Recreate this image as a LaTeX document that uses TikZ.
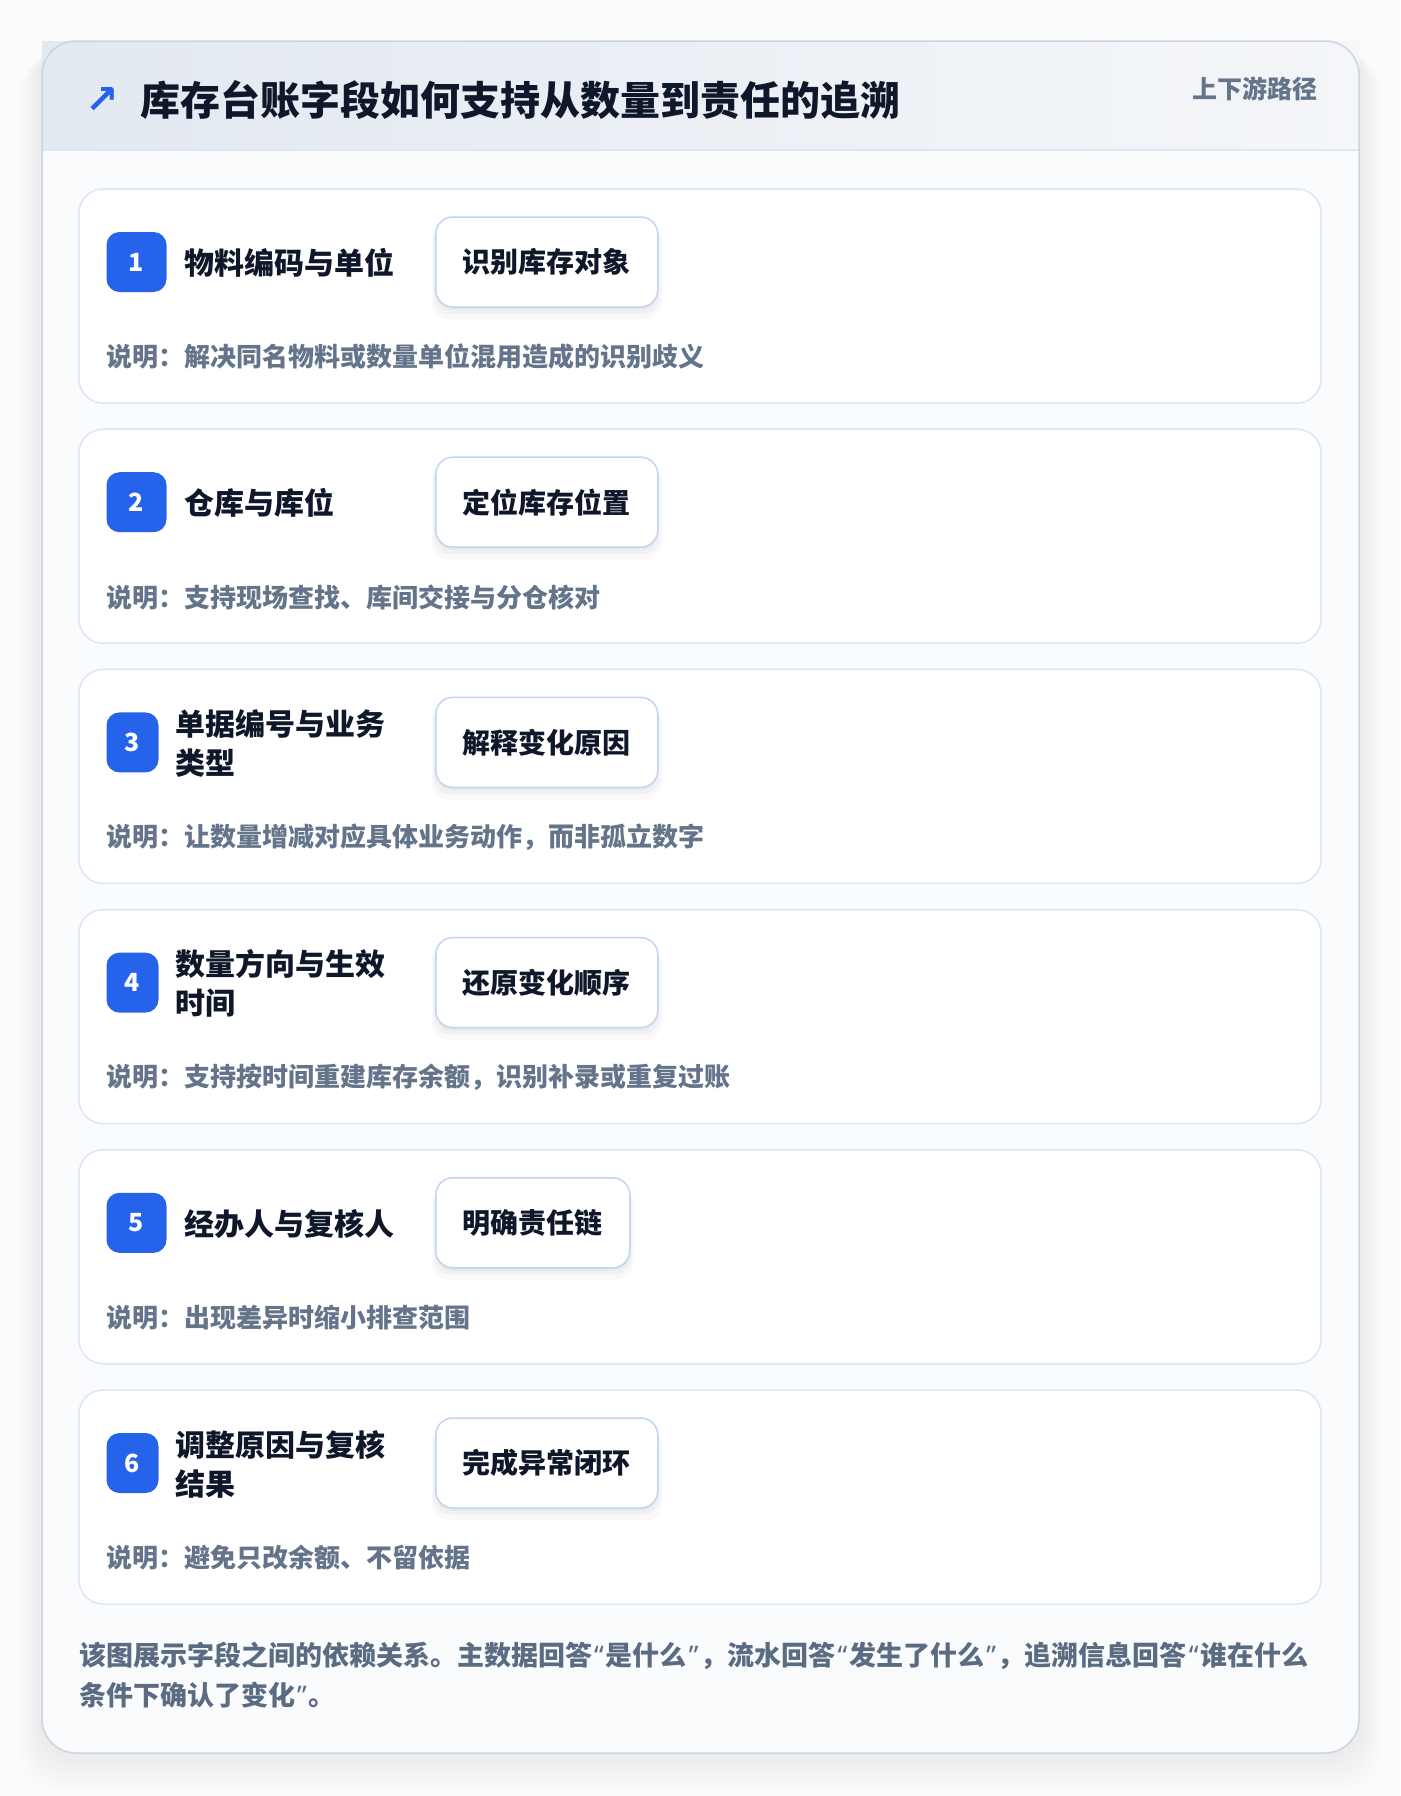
\documentclass[tikz,border=0pt]{standalone}
\usepackage{fontspec}
\setmainfont{Noto Sans CJK SC}
\newfontfamily\symfont{DejaVu Sans}
\newfontfamily\quotefont{Noto Sans}
\usetikzlibrary{shadows}
\definecolor{pagebg}{HTML}{FBFBFC}
\definecolor{cardbg}{HTML}{F9FBFD}
\definecolor{cardborder}{HTML}{CBD5E1}
\definecolor{headl}{HTML}{E3E9F1}
\definecolor{headr}{HTML}{F4F6F9}
\definecolor{headline}{HTML}{DCE8F7}
\definecolor{rowborder}{HTML}{DCE7F6}
\definecolor{tagborder}{HTML}{BFD5F3}
\definecolor{badgeblue}{HTML}{2563EB}
\definecolor{ink}{HTML}{0F172A}
\definecolor{muted}{HTML}{64748B}
\definecolor{footc}{HTML}{5B6B82}
\newcommand\myopenq{{\kern2pt\quotefont “\kern2pt}}
\newcommand\mycloseq{{\kern2pt\quotefont ”\kern2pt}}
\tikzset{
  rowbox/.style={draw=rowborder, line width=1.5pt, fill=white, rounded corners=24pt},
  badge/.style={fill=badgeblue, rounded corners=13pt, minimum height=60pt, inner sep=0pt,
    text=white, font=\fontsize{25}{25}\selectfont\bfseries},
  fieldlabel/.style={anchor=west, text=ink, font=\fontsize{30}{39}\selectfont\bfseries,
    align=left, inner sep=0pt},
  tagbox/.style={draw=tagborder, line width=1.5pt, fill=white, rounded corners=17pt,
    minimum height=90pt, inner xsep=27pt, inner ysep=0pt, text=ink,
    font=\fontsize{28}{28}\selectfont\bfseries, anchor=west,
    drop shadow={shadow xshift=0pt, shadow yshift=-10pt, shadow scale=1.04, opacity=0.025, fill=black},
    drop shadow={shadow xshift=0pt, shadow yshift=-6pt, shadow scale=1.02, opacity=0.03, fill=black},
    drop shadow={shadow xshift=0pt, shadow yshift=-3pt, opacity=0.03, fill=black}},
  desctext/.style={anchor=west, inner sep=0pt, text=muted, font=\fontsize{26}{26}\selectfont\bfseries},
  titletext/.style={anchor=west, inner sep=0pt, text=ink, font=\fontsize{40}{40}\selectfont\bfseries},
  sidetext/.style={anchor=east, inner sep=0pt, text=muted, font=\fontsize{25}{25}\selectfont\bfseries},
  foottext/.style={anchor=north west, inner sep=0pt, text=footc, align=left,
    font=\fontsize{27}{40}\selectfont\bfseries},
}
% #1 idx, #2 top, #3 num, #4 label, #5 tag, #6 desc, #7 badge width, #8 label x
\newcommand\fielditem[8]{%
  \draw[rowbox] (79,#2) rectangle (1321,#2+214);
  \node[badge, minimum width=#7pt] (badge#1) at ({106.5+#7/2}, {#2+73}) {#3};
  \node[fieldlabel] (label#1) at (#8, {#2+74}) {#4};
  \node[tagbox] (tag#1) at (435, {#2+73}) {#5};
  \node[desctext] (desc#1) at (106.5, {#2+168}) {#6};
}
\begin{document}
\begin{tikzpicture}[x=1pt,y=-1pt]
\useasboundingbox (0,0) rectangle (1400,1796);
\fill[pagebg] (0,0) rectangle (1400,1796);
% card shadow
\foreach \k in {1,...,16}{
  \fill[black, opacity=0.0045, rounded corners={34+\k}] ({42-1.5*\k}, {41+0.5*\k}) rectangle ({1359+1.5*\k}, {1753+2.5*\k});
}
% card
\fill[cardbg, rounded corners=34pt] (42,41) rectangle (1359,1753);
\shade[left color=headl, right color=headr] (42,41) rectangle (1359,150);
\draw[headline, line width=2pt] (42,150) -- (1359,150);
\draw[cardborder, line width=1.5pt, rounded corners=34pt] (42,41) rectangle (1359,1753);
% header
\node[text=badgeblue, inner sep=0pt, font=\symfont\bfseries\fontsize{40}{40}\selectfont] (icon) at (102,101) {↗};
\node[titletext] (title) at (140,99.7) {库存台账字段如何支持从数量到责任的追溯};
\node[sidetext] (side) at (1318,89) {上下游路径};
% rows
\fielditem{1}{189}{1}{物料编码与单位}{识别库存对象}{说明：解决同名物料或数量单位混用造成的识别歧义}{60}{184.5}
\fielditem{2}{429.2}{2}{仓库与库位}{定位库存位置}{说明：支持现场查找、库间交接与分仓核对}{60}{184.5}
\fielditem{3}{669.4}{3}{单据编号与业务\\类型}{解释变化原因}{说明：让数量增减对应具体业务动作，而非孤立数字}{52}{175}
\fielditem{4}{909.6}{4}{数量方向与生效\\时间}{还原变化顺序}{说明：支持按时间重建库存余额，识别补录或重复过账}{52}{175}
\fielditem{5}{1149.8}{5}{经办人与复核人}{明确责任链}{说明：出现差异时缩小排查范围}{60}{184.5}
\fielditem{6}{1390}{6}{调整原因与复核\\结果}{完成异常闭环}{说明：避免只改余额、不留依据}{52}{175}
% footer
\node[foottext] (foot) at (79,1642) {该图展示字段之间的依赖关系。主数据回答\myopenq 是什么\mycloseq ，流水回答\myopenq 发生了什么\mycloseq ，追溯信息回答\myopenq 谁在什么\\条件下确认了变化\mycloseq 。};
\end{tikzpicture}
\end{document}
